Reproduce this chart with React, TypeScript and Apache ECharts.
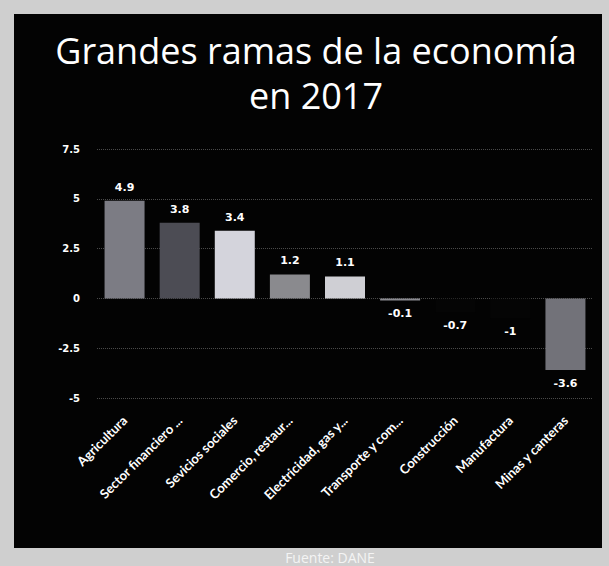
import React, { useEffect, useRef } from "react";
import * as echarts from "echarts";

const categories = [
  "Agricultura",
  "Sector financiero ...",
  "Sevicios sociales",
  "Comercio, restaur...",
  "Electricidad, gas y...",
  "Transporte y com...",
  "Construcción",
  "Manufactura",
  "Minas y canteras",
];
const values = [4.9, 3.8, 3.4, 1.2, 1.1, -0.1, -0.7, -1, -3.6];
const barColors = [
  "#7c7c84",
  "#4c4c54",
  "#d4d4dc",
  "#8a8a8e",
  "#cfcfd4",
  "#8a8a90",
  "#050505",
  "#050505",
  "#727279",
];
const titleLine1 = "Grandes ramas de la economía";
const titleLine2 = "en 2017";
const sourceText = "Fuente: DANE";

export default function App() {
  const ref = useRef<HTMLDivElement>(null);
  useEffect(() => {
    document.body.style.margin = "0";
    const chart = echarts.init(ref.current!, null, { renderer: "svg" });
    const titleStyle = {
      color: "#ffffff",
      fontFamily: "'Open Sans'",
      fontWeight: "normal",
      fontSize: 36,
      lineHeight: 40,
    };
    chart.setOption({
      animation: false,
      backgroundColor: "#cfcfcf",
      graphic: [
        {
          type: "rect",
          z: -10,
          shape: { x: 14, y: 14, width: 588, height: 534 },
          style: { fill: "#030303" },
        },
        {
          type: "text",
          x: 330,
          y: 557,
          style: {
            text: sourceText,
            fill: "#f4f4f4",
            font: "14px 'Open Sans'",
            align: "center",
            verticalAlign: "middle",
          },
        },
      ],
      title: [
        { text: titleLine1, left: 316, textAlign: "center", top: 30, padding: 0, textStyle: titleStyle },
        { text: titleLine2, left: 316, textAlign: "center", top: 75, padding: 0, textStyle: titleStyle },
      ],
      grid: { left: 97, right: 16, top: 149, bottom: 168 },
      xAxis: {
        type: "category",
        data: categories,
        position: "bottom",
        axisLine: { show: false, onZero: false },
        axisTick: { show: false },
        axisLabel: {
          rotate: 45,
          interval: 0,
          color: "#ffffff",
          fontFamily: "Lato",
          fontWeight: "bold",
          fontSize: 13,
          margin: 20,
        },
      },
      yAxis: {
        type: "value",
        min: -5,
        max: 7.5,
        interval: 2.5,
        axisLine: { show: false },
        axisTick: { show: false },
        axisLabel: {
          color: "#ffffff",
          fontFamily: "'DejaVu Sans'",
          fontWeight: "bold",
          fontSize: 10,
          margin: 17,
        },
        splitLine: { lineStyle: { color: "#4a4a4a", type: "dotted", width: 1 } },
      },
      series: [
        {
          type: "bar",
          barWidth: 40,
          data: values.map((v, i) => ({ value: v, itemStyle: { color: barColors[i] } })),
          label: {
            show: true,
            position: "outside",
            color: "#ffffff",
            fontFamily: "'DejaVu Sans'",
            fontWeight: "bold",
            fontSize: 11,
            distance: 8,
            formatter: (p: any) => String(p.value),
          },
        },
      ],
    });
    return () => chart.dispose();
  }, []);
  return (
    <div
      ref={ref}
      style={{ position: "fixed", left: 0, top: 0, width: 609, height: 566 }}
    />
  );
}
